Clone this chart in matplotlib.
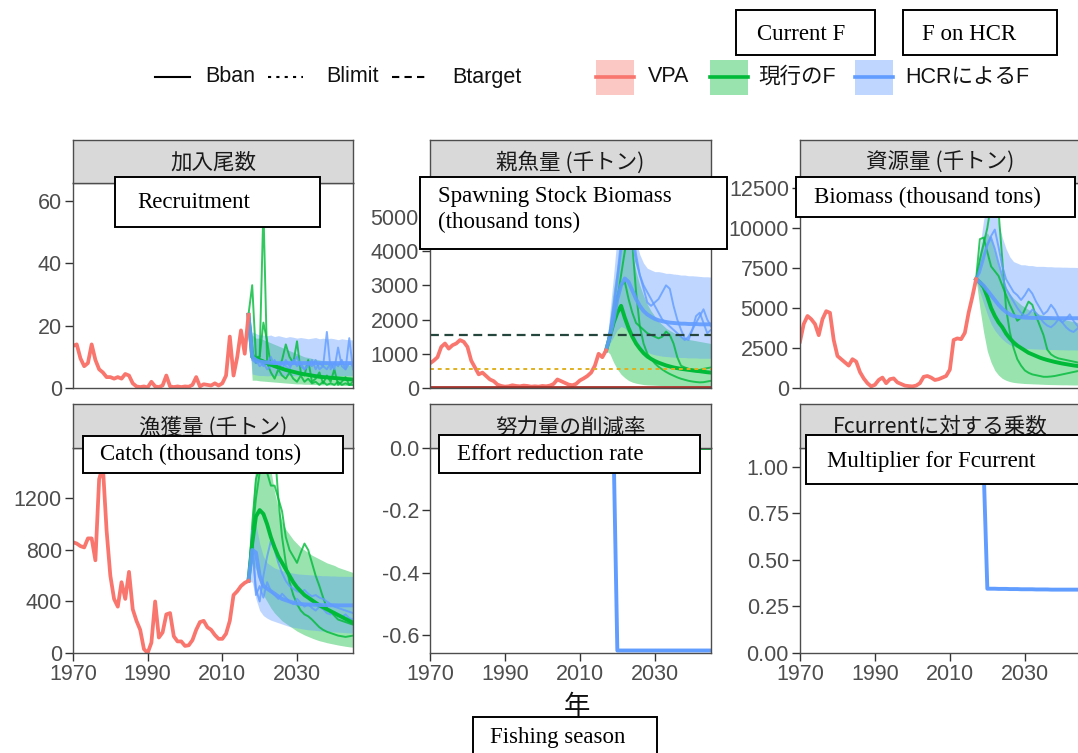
import matplotlib
matplotlib.use('Agg')
import matplotlib.pyplot as plt
from matplotlib.patches import Rectangle
from matplotlib.lines import Line2D

W, H = 1078, 753

RED = '#F8766D'
GREEN = '#00BA38'
BLUE = '#619CFF'

vpa_years = list(range(1970, 2018))
proj_years = list(range(2017, 2046))

# --- recruitment ---
rec_vpa = [13.5, 14, 9.5, 7, 8, 14, 9, 6, 5, 3.5, 3.5, 3, 3.5, 3, 4.5, 4, 1.5, 0.5, 0.3, 0.5,
           0.2, 2, 0.5, 0.3, 0.8, 4, 0.5, 0.3, 0.5, 0.3, 0.5, 0.4, 1, 3.5, 0.5, 1.2, 1, 0.8, 1.5, 0.8,
           1.5, 4, 16.5, 4, 10, 18.5, 11, 23.5]
rec_g_mean = [23.5, 10, 9.5, 9, 8.5, 8, 7.5, 7, 6.6, 6.2, 5.8, 5.5, 5.2, 4.9, 4.6, 4.4, 4.2, 4.0,
              3.8, 3.6, 3.5, 3.4, 3.3, 3.2, 3.1, 3.0, 2.9, 2.8, 2.7]
rec_g_lo = [23.5, 2.5, 2.5, 2.3, 2.2, 2.1, 2.0, 1.9, 1.8, 1.7, 1.6, 1.5, 1.4, 1.3, 1.3, 1.2, 1.2,
            1.1, 1.1, 1.0, 1.0, 1.0, 0.9, 0.9, 0.9, 0.8, 0.8, 0.8, 0.8]
rec_g_hi = [23.5, 17, 16, 16, 15.5, 15, 14.5, 14, 13.5, 13, 12.5, 12, 11.5, 11, 10.5, 10, 9.8,
            9.5, 9.2, 9, 8.8, 8.6, 8.4, 8.2, 8, 7.8, 7.6, 7.4, 7.2]
rec_b_mean = [23.5, 10, 9, 8.5, 8.3, 8.2, 8.1, 8, 8, 8, 8, 8, 8, 8, 8, 8, 8, 8, 8, 8, 8, 8, 8,
              8, 8, 8, 8, 8, 8]
rec_b_lo = [23.5, 4.5, 4.2, 4.0, 4.0, 3.9, 4.0, 4.1, 4.0, 3.9, 4.0, 4.1, 4.0, 3.9, 4.0, 4.0, 4.1,
            3.9, 4.0, 4.0, 3.9, 4.0, 4.1, 4.0, 3.9, 4.0, 4.0, 3.9, 4.0]
rec_b_hi = [23.5, 18, 17.5, 17, 17, 16.8, 17, 16.5, 16.8, 16.5, 16.2, 16.5, 16.3, 16, 16.2, 16,
            15.8, 16, 16.2, 15.8, 16, 15.7, 16, 15.8, 15.5, 15.8, 15.6, 15.5, 15.4]
rec_g_run1 = [23.5, 33, 10, 10, 21, 15, 7, 8, 6, 9, 14, 10, 8, 15, 5, 4, 9, 2, 3, 5, 1.5, 4, 2,
              6, 1, 2, 3.5, 1, 1]
rec_g_run2 = [23.5, 12, 8, 10, 58, 8, 5, 3, 6, 4, 3, 5, 3, 2, 4, 2, 3, 1.5, 2, 1, 2, 1, 1.5, 1,
              2, 1, 1.5, 1, 2]
rec_b_run1 = [23.5, 9, 8, 9, 7, 8, 10, 7, 8, 6, 9, 7, 8, 10, 7, 6, 8, 7, 9, 6, 7, 18, 6, 8, 7, 9,
              6, 16, 6]
rec_b_run2 = [23.5, 11, 9, 7, 8, 6, 7, 9, 6, 8, 7, 6, 9, 7, 8, 6, 7, 9, 6, 8, 7, 6, 8, 6, 13, 7,
              6, 8, 7]

# --- spawning stock biomass ---
ssb_vpa = [720, 800, 900, 1200, 1300, 1150, 1250, 1300, 1400, 1350, 1200, 800, 600, 400, 450, 350,
           250, 200, 100, 60, 40, 50, 80, 60, 50, 70, 60, 40, 50, 40, 60, 50, 70, 120, 250, 200,
           150, 100, 80, 120, 220, 280, 350, 450, 650, 1000, 900, 1100]
ssb_g_mean = [1100, 1500, 1900, 2200, 2400, 2050, 1750, 1500, 1300, 1150, 1020, 920, 850, 790,
              740, 700, 660, 630, 600, 580, 560, 545, 530, 515, 500, 490, 475, 460, 450]
ssb_g_lo = [1100, 1000, 750, 550, 400, 300, 220, 170, 140, 120, 100, 90, 85, 80, 75, 70, 68, 65,
            62, 60, 58, 56, 55, 54, 53, 52, 51, 50, 50]
ssb_g_hi = [1100, 2000, 2900, 3600, 4300, 4600, 4400, 3900, 3400, 3000, 2700, 2450, 2250, 2100,
            1950, 1850, 1750, 1680, 1620, 1560, 1500, 1460, 1420, 1400, 1380, 1360, 1340, 1320, 1300]
ssb_b_mean = [1100, 1500, 2000, 2600, 3000, 3200, 3100, 2850, 2600, 2400, 2250, 2150, 2080, 2020,
              1980, 1950, 1930, 1910, 1900, 1890, 1880, 1880, 1870, 1870, 1870, 1860, 1860, 1860, 1860]
ssb_b_lo = [1100, 1300, 1500, 1700, 1800, 1750, 1600, 1450, 1300, 1200, 1100, 1050, 1000, 970,
            950, 930, 920, 910, 900, 900, 890, 890, 880, 880, 880, 870, 870, 870, 870]
ssb_b_hi = [1100, 2200, 3300, 4500, 5500, 5800, 5500, 4900, 4300, 3900, 3650, 3500, 3450, 3400,
            3400, 3380, 3350, 3350, 3330, 3320, 3300, 3300, 3280, 3280, 3270, 3260, 3250, 3250, 3240]
ssb_g_run1 = [1100, 1600, 2200, 2700, 3000, 3100, 2600, 2200, 1900, 1800, 1700, 1600, 1550, 1500,
              1450, 1500, 1650, 1550, 1300, 900, 650, 600, 560, 540, 520, 530, 560, 580, 600]
ssb_g_run2 = [1100, 1500, 2000, 2600, 3300, 4000, 4600, 4200, 2800, 1800, 1300, 1000, 850, 720,
              620, 540, 470, 410, 360, 310, 270, 240, 210, 190, 175, 165, 170, 190, 210]
ssb_b_run1 = [1100, 1700, 2400, 3300, 4300, 5200, 5400, 4700, 3900, 3300, 2900, 2500, 2400, 2500,
              2600, 2800, 3000, 2900, 2400, 2000, 1700, 1450, 1400, 1700, 2100, 2200, 1900, 1600, 1700]
ssb_b_run2 = [1100, 1600, 2300, 3100, 4000, 4800, 4900, 4300, 3700, 3300, 3000, 2800, 2600, 2400,
              2200, 2000, 1900, 1800, 1700, 1600, 1500, 1400, 1500, 1700, 1900, 2100, 2300, 2000, 1800]
ssb_bban = 40
ssb_blimit = 560
ssb_btarget = 1550

# --- biomass ---
bio_vpa = [2900, 4000, 4500, 4300, 4000, 3300, 4300, 4800, 4700, 3000, 2000, 1800, 1600, 1400,
           1800, 1650, 1000, 600, 300, 100, 200, 500, 650, 300, 550, 600, 350, 250, 150, 120, 100,
           150, 300, 700, 750, 650, 500, 550, 650, 750, 1150, 3000, 3100, 3050, 3450, 4700, 5700, 6800]
bio_g_mean = [6800, 6600, 6300, 5700, 5000, 4500, 4100, 3800, 3400, 3100, 2850, 2650, 2500, 2350,
              2200, 2100, 2000, 1900, 1820, 1750, 1690, 1630, 1580, 1530, 1490, 1450, 1410, 1380, 1350]
bio_g_lo = [6800, 5000, 3500, 2300, 1600, 1100, 800, 600, 480, 400, 350, 320, 300, 280, 270, 260,
            250, 240, 230, 220, 215, 210, 205, 200, 200, 195, 190, 190, 185]
bio_g_hi = [6800, 8500, 9500, 9700, 9300, 8500, 7600, 6900, 6300, 5900, 5600, 5400, 5200, 5050,
            4900, 4800, 4700, 4600, 4550, 4500, 4450, 4400, 4350, 4300, 4250, 4200, 4150, 4100, 4050]
bio_b_mean = [6800, 6600, 6400, 6100, 5800, 5500, 5200, 4950, 4750, 4600, 4500, 4450, 4420, 4400,
              4390, 4380, 4380, 4370, 4370, 4370, 4370, 4360, 4360, 4360, 4360, 4360, 4360, 4360, 4360]
bio_b_lo = [6800, 6000, 5300, 4600, 4000, 3600, 3300, 3050, 2850, 2700, 2600, 2550, 2500, 2480,
            2460, 2450, 2440, 2430, 2420, 2410, 2400, 2400, 2390, 2390, 2380, 2380, 2380, 2370, 2370]
bio_b_hi = [6800, 8800, 10500, 11500, 11800, 11300, 10300, 9400, 8700, 8200, 7900, 7800, 7700,
            7700, 7650, 7650, 7600, 7600, 7600, 7580, 7580, 7560, 7560, 7550, 7550, 7540, 7540,
            7530, 7530]
bio_g_run1 = [6800, 9300, 9400, 8500, 7600, 7300, 7000, 6400, 5800, 5200, 4700, 4200, 4400, 4900,
              5400, 5200, 4500, 3900, 3300, 2400, 2100, 1950, 1850, 1800, 1750, 1700, 1650, 1600, 1550]
bio_g_run2 = [6800, 8000, 9000, 10000, 11500, 13000, 11000, 8000, 5000, 3500, 2500, 1800, 1400,
              1100, 950, 850, 800, 750, 700, 700, 720, 750, 800, 850, 900, 950, 1000, 1050, 1100]
bio_b_run1 = [6800, 7500, 8300, 9000, 9500, 9900, 8800, 7600, 6800, 6400, 6000, 5800, 5500, 5800,
              6200, 5900, 5400, 5000, 4600, 4800, 5200, 4900, 4400, 4100, 4300, 4600, 4200, 3900, 3700]
bio_b_run2 = [6800, 7200, 8000, 8900, 9400, 8700, 7800, 7000, 6200, 5800, 5400, 5000, 4700, 4500,
              4600, 4900, 4700, 4400, 4100, 3900, 3800, 4000, 4300, 4100, 3800, 3600, 3500, 3700, 3900]

# --- catch ---
catch_vpa = [860, 850, 830, 820, 890, 890, 720, 1350, 1450, 950, 600, 420, 360, 550, 420, 630,
             340, 250, 180, 30, 0, 80, 400, 120, 160, 300, 310, 130, 90, 90, 55, 60, 100, 180, 240,
             250, 200, 180, 140, 110, 110, 150, 250, 450, 480, 520, 545, 560]
catch_g_mean = [560, 850, 1060, 1110, 1080, 1000, 900, 820, 750, 700, 650, 600, 550, 510, 480,
                450, 430, 410, 390, 370, 355, 340, 325, 310, 295, 280, 265, 250, 235]
catch_g_lo = [560, 700, 650, 550, 450, 400, 350, 310, 280, 250, 230, 210, 190, 170, 155, 140, 128,
              116, 105, 95, 88, 80, 74, 68, 62, 57, 52, 48, 45]
catch_g_hi = [560, 1100, 1500, 1700, 1750, 1600, 1420, 1250, 1120, 1020, 960, 920, 880, 850, 820,
              800, 780, 760, 745, 730, 715, 700, 690, 680, 665, 655, 645, 635, 625]
catch_b_mean = [560, 800, 780, 600, 520, 500, 480, 460, 440, 420, 410, 400, 390, 385, 380, 378,
                376, 375, 374, 373, 372, 372, 371, 371, 370, 370, 370, 370, 370]
catch_b_lo = [560, 550, 420, 330, 290, 270, 255, 245, 235, 225, 215, 205, 200, 195, 190, 185, 180,
              178, 175, 172, 170, 168, 166, 164, 162, 160, 158, 156, 155]
catch_b_hi = [560, 1000, 1000, 850, 750, 700, 680, 660, 650, 640, 630, 625, 620, 615, 612, 610,
              608, 606, 604, 602, 600, 600, 598, 598, 596, 596, 595, 595, 594]
catch_g_run1 = [560, 1000, 1350, 1450, 1550, 1400, 1300, 1300, 1200, 1100, 900, 800, 750, 700, 780,
                850, 800, 700, 600, 520, 430, 350, 320, 290, 260, 250, 240, 230, 220]
catch_g_run2 = [560, 900, 1200, 1400, 1550, 1700, 1800, 1600, 1200, 900, 700, 550, 450, 380, 330,
                300, 285, 260, 230, 200, 180, 165, 155, 145, 135, 130, 125, 130, 135]
catch_b_run1 = [560, 950, 450, 520, 430, 550, 480, 450, 420, 460, 430, 400, 380, 420, 390, 360,
                380, 350, 330, 360, 340, 310, 300, 320, 290, 280, 300, 270, 260]
catch_b_run2 = [560, 800, 500, 400, 600, 750, 870, 800, 700, 620, 560, 520, 500, 480, 470, 490,
                460, 440, 450, 430, 420, 400, 380, 360, 350, 340, 330, 320, 310]

# --- effort reduction rate / multiplier for Fcurrent ---
effort_cur = [0.0, 0.0, 0.0, 0.0, 0.0, 0.0, 0.0, 0.0, 0.0, 0.0,
              0.0, 0.0, 0.0, 0.0, 0.0, 0.0, 0.0, 0.0, 0.0, 0.0,
              0.0, 0.0, 0.0, 0.0, 0.0, 0.0, 0.0, 0.0, 0.0]
effort_hcr = [0.0, 0.0, 0.0, -0.65, -0.65, -0.65, -0.65, -0.65, -0.65, -0.65,
              -0.65, -0.65, -0.65, -0.65, -0.65, -0.65, -0.65, -0.65, -0.65, -0.65,
              -0.65, -0.65, -0.65, -0.65, -0.65, -0.65, -0.65, -0.65, -0.65]
mult_cur = [1.0, 1.0, 1.0, 1.0, 1.0, 1.0, 1.0, 1.0, 1.0, 1.0,
            1.0, 1.0, 1.0, 1.0, 1.0, 1.0, 1.0, 1.0, 1.0, 1.0,
            1.0, 1.0, 1.0, 1.0, 1.0, 1.0, 1.0, 1.0, 1.0]
mult_hcr = [1.0, 1.0, 1.0, 0.345, 0.345, 0.345, 0.344, 0.344, 0.344, 0.343,
            0.343, 0.343, 0.342, 0.342, 0.342, 0.342, 0.341, 0.341, 0.341, 0.341,
            0.340, 0.340, 0.340, 0.340, 0.340, 0.340, 0.340, 0.340, 0.340]

strip_labels = ['加入尾数', '親魚量 (千トン)', '資源量 (千トン)',
                '漁獲量 (千トン)', '努力量の削減率', 'Fcurrentに対する乗数']
x_ticks = [1970, 1990, 2010, 2030]

plt.rcParams['font.family'] = ['Liberation Sans', 'Noto Sans CJK JP', 'DejaVu Sans']

fig = plt.figure(figsize=(W / 100, H / 100), dpi=100)


def rect(x0, y0, x1, y1):
    return [x0 / W, 1 - y1 / H, (x1 - x0) / W, (y1 - y0) / H]


def fx(x):
    return x / W


def fy(y):
    return 1 - y / H


cols = [(73, 353), (430, 711), (800, 1081)]
rows = [((140, 183), (183, 388)), ((404, 448), (448, 653))]

yinfo = [
    ((0, 65.8), [0, 20, 40, 60], ['0', '20', '40', '60']),
    ((0, 5990), [0, 1000, 2000, 3000, 4000, 5000], ['0', '1000', '2000', '3000', '4000', '5000']),
    ((0, 12810), [0, 2500, 5000, 7500, 10000, 12500], ['0', '2500', '5000', '7500', '10000', '12500']),
    ((0, 1592), [0, 400, 800, 1200], ['0', '400', '800', '1200']),
    ((-0.658, 0.0), [-0.6, -0.4, -0.2, 0.0], ['-0.6', '-0.4', '-0.2', '0.0']),
    ((0, 1.10), [0, 0.25, 0.5, 0.75, 1.0], ['0.00', '0.25', '0.50', '0.75', '1.00']),
]

axes = []
for i in range(6):
    r, c = divmod(i, 3)
    (sy0, sy1), (py0, py1) = rows[r]
    x0, x1 = cols[c]
    ax = fig.add_axes(rect(x0, py0, x1, py1))
    sax = fig.add_axes(rect(x0, sy0, x1, sy1))
    sax.set_facecolor('#D9D9D9')
    sax.set_xticks([])
    sax.set_yticks([])
    for s in sax.spines.values():
        s.set_color('#4D4D4D')
        s.set_linewidth(1.0)
    sax.text(0.5, 0.47, strip_labels[i], transform=sax.transAxes, ha='center', va='center',
             fontsize=15.5, color='#1A1A1A', family=['Noto Sans CJK JP', 'DejaVu Sans'])

    ylim, yt, ytl = yinfo[i]
    ax.set_xlim(1970, 2045)
    ax.set_ylim(*ylim)
    ax.set_yticks(yt)
    ax.set_yticklabels(ytl)
    ax.set_xticks(x_ticks)
    ax.set_xticklabels([str(t) for t in x_ticks])
    ax.tick_params(direction='out', length=6, width=1.0, color='#333333',
                   labelcolor='#4D4D4D', labelsize=15.5, pad=2)
    if r == 0:
        ax.tick_params(axis='x', bottom=False, labelbottom=False)
    for s in ax.spines.values():
        s.set_color('#4D4D4D')
        s.set_linewidth(1.0)
    axes.append(ax)


def py(arr):
    return proj_years[:len(arr)]


def draw_stock(ax, vpa, g, b):
    g_mean, g_lo, g_hi, g_runs = g
    b_mean, b_lo, b_hi, b_runs = b
    ax.fill_between(py(g_lo), g_lo, g_hi, color=GREEN, alpha=0.4, lw=0)
    ax.fill_between(py(b_lo), b_lo, b_hi, color=BLUE, alpha=0.4, lw=0)
    for run in g_runs:
        ax.plot(py(run), run, color=GREEN, lw=1.4, alpha=0.8)
    for run in b_runs:
        ax.plot(py(run), run, color=BLUE, lw=1.4, alpha=0.8)
    ax.plot(py(g_mean), g_mean, color=GREEN, lw=2.8)
    ax.plot(py(b_mean), b_mean, color=BLUE, lw=2.8, alpha=0.9)
    ax.plot(vpa_years, vpa, color=RED, lw=2.7)


draw_stock(axes[0], rec_vpa,
           (rec_g_mean, rec_g_lo, rec_g_hi, [rec_g_run1, rec_g_run2]),
           (rec_b_mean, rec_b_lo, rec_b_hi, [rec_b_run1, rec_b_run2]))
draw_stock(axes[1], ssb_vpa,
           (ssb_g_mean, ssb_g_lo, ssb_g_hi, [ssb_g_run1, ssb_g_run2]),
           (ssb_b_mean, ssb_b_lo, ssb_b_hi, [ssb_b_run1, ssb_b_run2]))
axes[1].axhline(ssb_btarget, color='#24463C', lw=1.6, ls=(0, (4, 2.5)))
axes[1].axhline(ssb_blimit, color='#E0B020', lw=1.4, ls=(0, (2, 2)))
axes[1].axhline(ssb_bban, color='#A8322B', lw=2.0)
draw_stock(axes[2], bio_vpa,
           (bio_g_mean, bio_g_lo, bio_g_hi, [bio_g_run1, bio_g_run2]),
           (bio_b_mean, bio_b_lo, bio_b_hi, [bio_b_run1, bio_b_run2]))
draw_stock(axes[3], catch_vpa,
           (catch_g_mean, catch_g_lo, catch_g_hi, [catch_g_run1, catch_g_run2]),
           (catch_b_mean, catch_b_lo, catch_b_hi, [catch_b_run1, catch_b_run2]))

axes[4].plot(py(effort_cur), effort_cur, color=GREEN, lw=2.8)
axes[4].plot(py(effort_hcr), effort_hcr, color=BLUE, lw=2.8)
axes[5].plot(py(mult_cur), mult_cur, color=GREEN, lw=2.8)
axes[5].plot(py(mult_hcr), mult_hcr, color=BLUE, lw=2.8)

fig.text(fx(577), fy(706), '年', ha='center', va='center', fontsize=19,
         color='#111111', family=['Noto Sans CJK JP', 'DejaVu Sans'])

# legend, top
leg_y = 77
for x0, x1, ls, tx, label in [(155, 190, '-', 205, 'Bban'),
                              (268, 303, (0, (1.5, 2.5)), 326, 'Blimit'),
                              (392, 427, (0, (3.5, 2.5)), 452, 'Btarget')]:
    fig.add_artist(Line2D([fx(x0), fx(x1)], [fy(leg_y), fy(leg_y)], color='black', lw=1.5, ls=ls))
    fig.text(fx(tx), fy(leg_y), label, ha='left', va='center', fontsize=15.5, color='#111111')

for x0, tx, col, label in [(596, 648, RED, 'VPA'), (710, 758, GREEN, '現行のF'),
                           (855, 905, BLUE, 'HCRによるF')]:
    fig.add_artist(Rectangle((fx(x0), fy(95)), 38 / W, 35 / H, transform=fig.transFigure,
                             facecolor=col, alpha=0.4, lw=0))
    fig.add_artist(Line2D([fx(x0), fx(x0 + 38)], [fy(leg_y), fy(leg_y)], color=col, lw=2.6))
    fig.text(fx(tx), fy(leg_y), label, ha='left', va='center', fontsize=15.5, color='#111111',
             family=['Liberation Sans', 'Noto Sans CJK JP'])

# English translation boxes
boxes = [
    (115, 177, 320, 227, 137, 202, 'Recruitment'),
    (420, 177, 727, 249, 438, 210, 'Spawning Stock Biomass\n(thousand tons)'),
    (796, 177, 1075, 217, 814, 197, 'Biomass (thousand tons)'),
    (83, 436, 343, 473, 100, 454, 'Catch (thousand tons)'),
    (439, 435, 700, 473, 457, 454, 'Effort reduction rate'),
    (806, 435, 1090, 484, 827, 461, 'Multiplier for Fcurrent'),
    (473, 717, 657, 770, 490, 737, 'Fishing season'),
    (736, 10, 875, 55, 757, 34, 'Current F'),
    (903, 10, 1057, 55, 922, 34, 'F on HCR'),
]
for x0, y0, x1, y1, tx, ty, text in boxes:
    fig.add_artist(Rectangle((fx(x0), fy(y1)), (x1 - x0) / W, (y1 - y0) / H,
                             transform=fig.transFigure, facecolor='white',
                             edgecolor='black', lw=1.4, zorder=20))
    t = fig.text(fx(tx), fy(ty), text, ha='left', va='center', fontsize=16.5,
                 family='Liberation Serif', color='black', linespacing=1.3)
    t.set_zorder(21)

fig.savefig('out.png', dpi=100)
